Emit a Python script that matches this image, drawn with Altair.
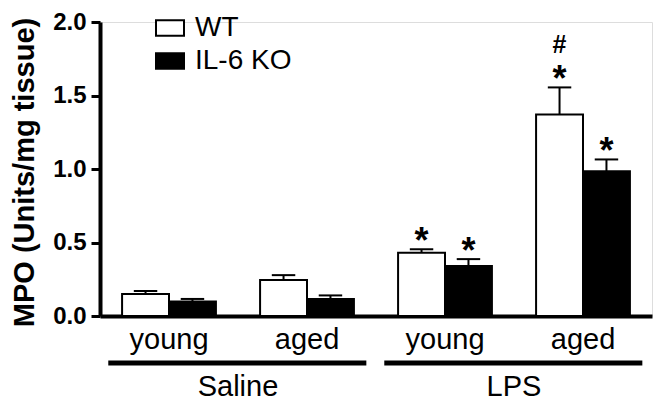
import altair as alt
import pandas as pd

# ---- data ----
treatments = ["Saline", "Saline", "LPS", "LPS"]
ages = ["young", "aged", "young", "aged"]
genotypes = ["WT", "IL-6 KO"]
wt_mean = [0.15, 0.245, 0.43, 1.37]
wt_sem = [0.02, 0.033, 0.024, 0.185]
ko_mean = [0.098, 0.115, 0.34, 0.985]
ko_sem = [0.018, 0.025, 0.047, 0.08]
wt_star = ["", "", "*", "*"]
ko_star = ["", "", "*", "*"]
wt_hash = ["", "", "", "#"]
treat_groups = ["Saline", "LPS"]

FONT = "Liberation Sans"

rows = []
for g in range(4):
    rows.append(dict(g=g, age=ages[g], treat=treatments[g], genotype="WT",
                     mean=wt_mean[g], sem=wt_sem[g], star=wt_star[g], hash=wt_hash[g]))
    rows.append(dict(g=g, age=ages[g], treat=treatments[g], genotype="IL-6 KO",
                     mean=ko_mean[g], sem=ko_sem[g], star=ko_star[g], hash=""))
df = pd.DataFrame(rows)
grp = pd.DataFrame({"g": range(4), "age": ages})
tg = pd.DataFrame({"i": range(len(treat_groups)), "name": treat_groups})

base = alt.Chart(df).transform_calculate(
    x0="datum.g + 0.5 + (datum.genotype == 'WT' ? -0.34 : 0)",
    x1="datum.g + 0.5 + (datum.genotype == 'WT' ? 0 : 0.34)",
    xc="datum.g + 0.5 + (datum.genotype == 'WT' ? -0.17 : 0.17)",
    top="datum.mean + datum.sem",
)

xscale = alt.Scale(domain=[0, 4], range=[0, 552], nice=False, zero=False)
yscale = alt.Scale(domain=[0, 2], nice=False)

bars = base.mark_bar(stroke="black", strokeWidth=2).encode(
    x=alt.X("x0:Q", scale=xscale,
            axis=alt.Axis(labels=False, ticks=False, grid=False, title=None,
                          domainWidth=4, domainColor="black")),
    x2="x1:Q",
    y=alt.Y("mean:Q", scale=yscale,
            axis=alt.Axis(values=[0, 0.5, 1.0, 1.5, 2.0], format=".1f", grid=False,
                          title="MPO (Units/mg tissue)", titleFont=FONT, titleFontSize=29,
                          titleFontWeight="bold", titleColor="black",
                          titleX=-76, titleY=150, titleAngle=-90, titleAlign="center",
                          titleBaseline="middle",
                          labelFont=FONT, labelFontSize=24, labelFontWeight="bold",
                          labelColor="black", labelPadding=5,
                          tickSize=9, tickWidth=3, tickColor="black",
                          domainWidth=4, domainColor="black")),
    y2=alt.datum(0),
    fill=alt.Fill("genotype:N",
                  scale=alt.Scale(domain=genotypes, range=["white", "black"]),
                  legend=alt.Legend(title=None, orient="none", legendX=55, legendY=-9,
                                    symbolType="M-1,-0.55H1V0.55H-1Z", symbolSize=784,
                                    symbolStrokeColor="black", symbolStrokeWidth=2,
                                    symbolOpacity=1,
                                    labelFont=FONT, labelFontSize=28, labelColor="black",
                                    labelOffset=10, rowPadding=4, padding=0)),
)

err = base.mark_rule(color="black", strokeWidth=2).encode(
    x="xc:Q", y="mean:Q", y2="top:Q")
cap = base.transform_calculate(
    c0="datum.xc - 0.085", c1="datum.xc + 0.085"
).mark_rule(color="black", strokeWidth=2).encode(
    x="c0:Q", x2="c1:Q", y="top:Q")

stars = base.mark_text(font=FONT, fontSize=36, fontWeight="bold", baseline="alphabetic",
                       align="center", dy=4, color="black").encode(
    x="xc:Q", y="top:Q", text="star:N")
hashes = base.mark_text(font=FONT, fontSize=25, fontWeight="bold", baseline="alphabetic",
                        align="center", dy=-34, color="black").encode(
    x="xc:Q", y="top:Q", text="hash:N")

age_lbl = alt.Chart(grp).transform_calculate(xm="datum.g + 0.5").mark_text(
    font=FONT, fontSize=29, baseline="middle", align="center", color="black"
).encode(x="xm:Q", y=alt.value(318), text="age:N")

brackets = alt.Chart(tg).transform_calculate(
    s="2 * datum.i + 0.06", e="2 * datum.i + 1.93"
).mark_rule(color="black", strokeWidth=5).encode(
    x="s:Q", x2="e:Q", y=alt.value(341))

tg_lbl = alt.Chart(tg).transform_calculate(xm="2 * datum.i + 1").mark_text(
    font=FONT, fontSize=29, baseline="middle", align="center", color="black"
).encode(x="xm:Q", y=alt.value(365), text="name:N")

chart = alt.layer(bars, err, cap, stars, hashes, age_lbl, brackets, tg_lbl).properties(
    width=552, height=294,
    autosize=alt.AutoSizeParams(type="none"),
    padding={"left": 92, "top": 14, "right": 3, "bottom": 90},
).configure_view(stroke=None).configure(background="white")

chart.save("out.html", embed_options={"renderer": "svg", "actions": False})
